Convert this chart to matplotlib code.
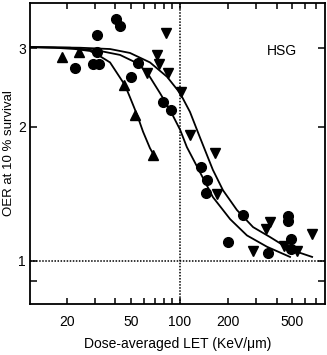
import numpy as np
import matplotlib
matplotlib.use('Agg')
import matplotlib.pyplot as plt
from matplotlib.ticker import FixedLocator, NullFormatter, NullLocator

plt.rcParams['font.family'] = ['Liberation Sans', 'DejaVu Sans']

# measured points
circ_x = [22.4, 30.6, 30.6, 29.0, 31.6, 40.3, 42.4, 50.0, 55.2, 78.9, 88.5, 136, 147, 146,
          248, 201, 354, 469, 472, 492, 492]
circ_y = [2.71, 3.21, 2.94, 2.77, 2.77, 3.49, 3.37, 2.59, 2.78, 2.27, 2.18, 1.62, 1.52, 1.42,
          1.27, 1.10, 1.04, 1.26, 1.23, 1.12, 1.06]

up_x = [18.5, 23.7, 45.5, 52.9, 68.4]
up_y = [2.87, 2.95, 2.48, 2.12, 1.73]

down_x = [82.4, 72.5, 74.5, 62.8, 84.2, 101.4, 116, 165, 171, 284, 342, 365, 446, 537, 660]
down_y = [3.25, 2.90, 2.77, 2.64, 2.64, 2.39, 1.92, 1.75, 1.41, 1.05, 1.18, 1.22, 1.08, 1.05, 1.15]

# fitted curves
fit_a_x = [11.8, 16.8, 22.4, 27.8, 32.1, 37.0, 40.9, 45.8, 49.2, 54.4, 59.3, 65.5, 70.4]
fit_a_y = [3.02, 3.01, 2.99, 2.96, 2.88, 2.79, 2.64, 2.48, 2.33, 2.13, 1.95, 1.79, 1.71]

fit_b_x = [11.8, 20.9, 32.1, 42.7, 54.4, 62.8, 75.6, 87.3, 100.7, 111, 134, 161, 206, 262, 349, 485]
fit_b_y = [3.02, 3.01, 2.96, 2.90, 2.78, 2.65, 2.38, 2.18, 1.97, 1.80, 1.58, 1.39, 1.24, 1.14, 1.075, 1.02]

fit_c_x = [11.8, 24.1, 37.0, 49.2, 65.5, 83.6, 100.7, 116, 134, 161, 186, 227, 286, 365, 485, 665]
fit_c_y = [3.02, 3.01, 2.99, 2.93, 2.79, 2.59, 2.38, 2.16, 1.89, 1.60, 1.44, 1.30, 1.19, 1.13, 1.06, 1.02]

x_ticks = [20, 30, 40, 50, 60, 70, 80, 90, 100, 200, 300, 400, 500, 600, 700]
x_labels = [20, 50, 100, 200, 500]
y_ticks = [0.9, 1, 2, 3]
y_labels = [1, 2, 3]

fig = plt.figure(figsize=(3.27, 3.55), dpi=100)
ax = fig.add_axes([0.092, 0.144, 0.902, 0.847])
ax.set_xscale('log')
ax.set_yscale('log')
ax.set_xlim(11.8, 800)
ax.set_ylim(0.8, 3.79)

ax.axvline(100, color='black', linestyle=(0, (1, 1)), lw=1.1, zorder=1)
ax.axhline(1, color='black', linestyle=(0, (1, 1)), lw=1.1, zorder=1)

for fx, fy in [(fit_a_x, fit_a_y), (fit_b_x, fit_b_y), (fit_c_x, fit_c_y)]:
    ax.plot(fx, fy, color='black', lw=1.3, zorder=2)

ax.plot(circ_x, circ_y, 'o', color='black', ms=7, zorder=3)
ax.plot(up_x, up_y, '^', color='black', ms=7, zorder=3)
ax.plot(down_x, down_y, 'v', color='black', ms=7, zorder=3)

ax.xaxis.set_major_locator(FixedLocator(x_ticks))
ax.xaxis.set_minor_locator(NullLocator())
ax.set_xticklabels([str(t) if t in x_labels else '' for t in x_ticks])
ax.yaxis.set_major_locator(FixedLocator(y_ticks))
ax.yaxis.set_minor_locator(NullLocator())
ax.set_yticklabels([str(t) if t in y_labels else '' for t in y_ticks])
ax.xaxis.set_minor_formatter(NullFormatter())
ax.yaxis.set_minor_formatter(NullFormatter())

ax.tick_params(direction='in', top=True, right=True, length=4, width=1.1,
               labelsize=10, pad=8)
ax.tick_params(axis='y', length=5, pad=3)
for s in ax.spines.values():
    s.set_linewidth(1.3)

ax.text(0.855, 0.84, 'HSG', transform=ax.transAxes, fontsize=10, ha='center', va='center')
ax.set_xlabel('Dose-averaged LET (KeV/\u03bcm)', fontsize=10, labelpad=6)
ax.set_ylabel('OER at 10 % survival', fontsize=9.5)
ax.yaxis.set_label_coords(-0.05, 0.5)

fig.savefig('out.png', dpi=100)
